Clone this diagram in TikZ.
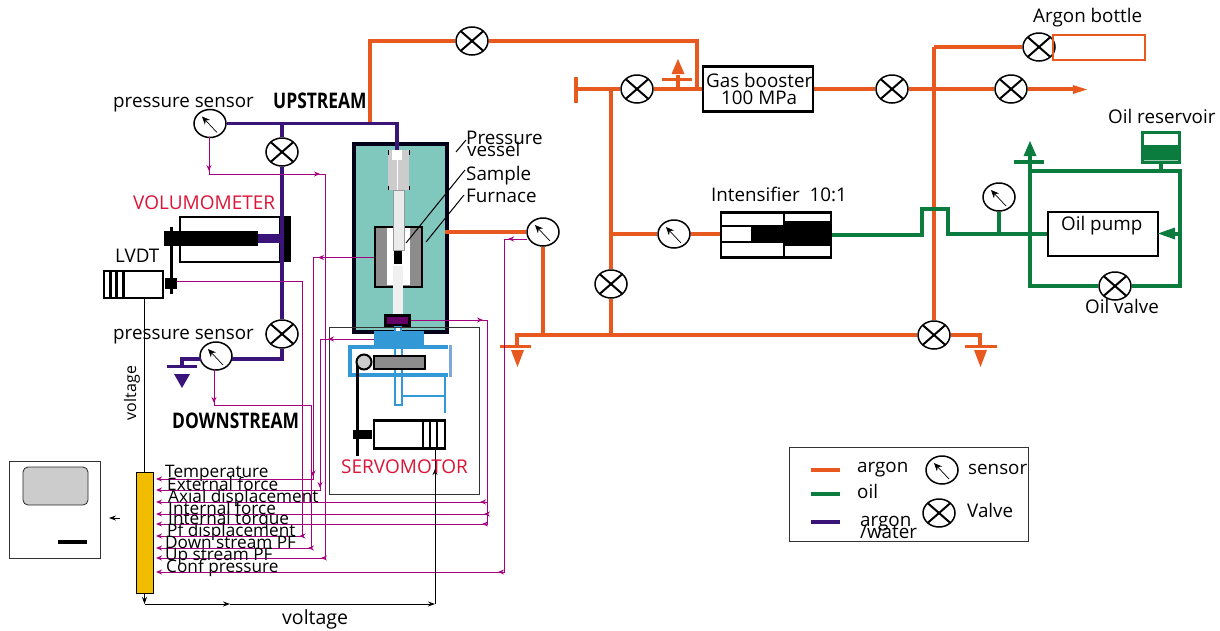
\documentclass[tikz,border=0pt]{standalone}
\usepackage{fontspec}
\setmainfont{Open Sans}
\usetikzlibrary{arrows.meta,shapes.geometric,decorations.markings}
\definecolor{argonc}{HTML}{E8591F}
\definecolor{oilc}{HTML}{0B7B3E}
\definecolor{waterc}{HTML}{3A1478}
\definecolor{sigc}{HTML}{A5007E}
\definecolor{redc}{HTML}{DC1437}
\definecolor{tealc}{HTML}{80C7BE}
\definecolor{bluec}{HTML}{3399D6}
\definecolor{lbluec}{HTML}{7FA8DA}
\definecolor{goldc}{HTML}{F2BD00}
\tikzset{
 valve/.style={ellipse,draw=black,fill=white,line width=1.5pt,minimum width=32pt,minimum height=28pt,inner sep=0pt,
   path picture={\draw[line width=2pt] (path picture bounding box.north west) -- (path picture bounding box.south east)
      (path picture bounding box.north east) -- (path picture bounding box.south west);}},
 gauge/.style={ellipse,draw=black,fill=white,line width=1.5pt,minimum width=32pt,minimum height=28pt,inner sep=0pt,
   path picture={\draw[line width=.7pt,-{Stealth[length=8pt,width=7pt]}] (path picture bounding box.center) ++(7,9) -- ++(-15,-16);}},
 argon/.style={draw=argonc,line width=4pt},
 oil/.style={draw=oilc,line width=3.4pt},
 water/.style={draw=waterc,line width=3.6pt},
 sig/.style={draw=sigc,line width=1pt,-{Stealth[length=6pt,width=5pt]}},
 tipat/.style={postaction={decorate,decoration={markings,mark=at position #1pt with {\arrow{Stealth[length=6pt,width=5pt]}}}}},
 blk/.style={draw=black,line width=1pt,-{Stealth[length=7pt,width=5pt]}},
 boxed/.style={draw=black,fill=white,line width=2.5pt,inner sep=0pt},
 lbl/.style={inner sep=0pt,anchor=base west,font=\fontsize{18.8}{18.8}\selectfont},
 lbs/.style={inner sep=0pt,font=\fontsize{16}{16}\selectfont},
 small/.style={inner sep=0pt,anchor=base west,font=\fontsize{17.2}{17.2}\selectfont},
 redl/.style={inner sep=0pt,anchor=base west,text=redc,font=\fontsize{19}{19}\selectfont},
 flow/.style={inner sep=0pt,anchor=base west,font=\fontsize{21.5}{21.5}\bfseries},
 pipeb/.style={draw=bluec,line width=3.4pt},
 leader/.style={draw=black,line width=1pt},
}
\begin{document}
\begin{tikzpicture}[x=1pt,y=-1pt]
\path[use as bounding box] (0,0) rectangle (1220,630);

% ---- vessel
\node[draw=black!90!blue,fill=tealc,line width=4pt,minimum width=93pt,minimum height=188pt,inner sep=0pt] (vessel) at (400,238) {};
\fill[black!20] (388,150) rectangle (409,190);
\fill[black!15] (393,190) rectangle (404,250);
\draw[white,line width=.7pt] (397,155) -- (397,250) (400,190) -- (400,250);
\fill[white] (392,150) rectangle (402,160);
\draw[black,line width=1pt] (388,150) -- (388,155) (409,150) -- (409,155) (388,186) -- (388,190) (409,186) -- (409,190);
\node[draw=black,fill=black!45,line width=2pt,minimum width=47pt,minimum height=60pt,inner sep=0pt] (furnace) at (398,257) {};
\fill[white] (387,228) rectangle (410,285);
\fill[black!8] (393,190) rectangle (404,250);
\draw[black!40,line width=.5pt] (393,190) rectangle (404,250);
\fill[black] (394,251) rectangle (402,264);
\fill[black!6] (393,266) rectangle (403,314);
\node[draw=black,fill=black!20!violet,line width=2.2pt,minimum width=24pt,minimum height=10pt,inner sep=0pt] (cell) at (397.5,320.5) {};
\fill[bluec] (394,326) rectangle (402,332);
\fill[white] (396,327) rectangle (400,331);
% ---- servo frame
\node[draw=black!80,line width=.8pt,minimum width=150pt,minimum height=167pt,inner sep=0pt] (frame) at (404.5,410.5) {};
\fill[bluec] (374,331) rectangle (424,345);
\draw[pipeb] (448,347) -- (350,347) -- (350,375) -- (448,375);
\draw[draw=lbluec,line width=3pt] (450,345) -- (450,377);
\draw[pipeb,line width=2pt] (394.5,345) -- (394.5,405) -- (401.5,405) -- (401.5,345);
\draw[pipeb,line width=2.4pt] (445,375) -- (445,413) (402,396) -- (445,396);
\draw[black,line width=3pt] (357,362) -- (357,456);
\node[draw=black,fill=black!20,line width=2pt,circle,minimum size=15pt,inner sep=0pt] (pulley) at (364,362) {};
\node[draw=black,fill=black!45,line width=2pt,minimum width=51pt,minimum height=13pt,inner sep=0pt] (lever) at (399.5,362) {};
\node[boxed,minimum width=71pt,minimum height=28pt] (servo) at (409.5,434.5) {};
\fill[black] (353,430) rectangle (372,439);
\draw[black,line width=2.5pt] (423,421) -- (423,448) (430,421) -- (430,448) (437,421) -- (437,448);

% ---- volumometer
\node[boxed,minimum width=100pt,minimum height=45pt] (volu) at (230,239.5) {};
\fill[black] (279,216) rectangle (291,262);
\fill[black] (164,231) rectangle (258,245.5);
\fill[waterc] (258,234) rectangle (281,243);
\draw[black,line width=3pt] (171.5,227) -- (171.5,294);
% ---- LVDT
\node[boxed,minimum width=59pt,minimum height=27pt] (lvdt) at (133.5,284.5) {};
\draw[black,line width=2.5pt] (110.5,272) -- (110.5,297) (116.5,272) -- (116.5,297) (123.5,272) -- (123.5,298);
\node[fill=black,inner sep=0pt,minimum width=12pt,minimum height=11pt] (lvdtb) at (171,283.5) {};

% ---- valves and gauges
\node[valve] (v1) at (472,41) {};
\node[valve] (v2) at (637,89) {};
\node[valve] (v3) at (892,89) {};
\node[valve] (v4) at (1011,89) {};
\node[valve] (v5) at (1039,47) {};
\node[valve] (v6) at (611,284) {};
\node[valve] (v7) at (934,335) {};
\node[valve] (voil) at (1115,286) {};
\node[valve] (vp1) at (282,152) {};
\node[valve] (vp2) at (282,334) {};
\node[gauge] (s1) at (210,123.5) {};
\node[gauge] (s2) at (216,356) {};
\node[gauge] (s3) at (543,232) {};
\node[gauge] (s4) at (674,234) {};
\node[gauge] (s5) at (999,197) {};

% ---- boxes
\node[boxed,minimum width=110pt,minimum height=45pt] (booster) at (758,89) {};
\node[boxed,minimum width=110pt,minimum height=45pt] (intens) at (776,235) {};
\fill[black] (751,225) rectangle (784,243);
\fill[black] (784,221) rectangle (830,246);
\draw[black,line width=2pt] (722,226) -- (751,226) (722,242) -- (751,242);
\draw[black,line width=2pt] (784,212) -- (784,258);
\node[boxed,minimum width=110pt,minimum height=44pt] (pump) at (1103,234) {};
\node[draw=argonc,line width=1.6pt,minimum width=92pt,minimum height=25pt,inner sep=0pt] (bottle) at (1099,47.5) {};
\node[draw=oilc,fill=oilc,line width=1pt,minimum width=39pt,minimum height=32pt,inner sep=0pt] (res) at (1161,147) {};
\fill[white] (1144,133.5) rectangle (1178,145);
\draw[white!60!oilc,line width=.5pt] (1144,160) -- (1178,160);

% ---- orange coordinates
\coordinate (a1) at (370,123.5);
\coordinate (a2) at (370,41);
\coordinate (a3) at (697,41);
\coordinate (a4) at (697,89);
\coordinate (a5) at (576,89);
\coordinate (a6) at (611,89);
\coordinate (a7) at (611,334);
\coordinate (a8) at (611,234);
\coordinate (a9) at (934,47);
\coordinate (a11) at (517,335);
\coordinate (a12) at (517,347);
\coordinate (a13) at (980,335);
\coordinate (a14) at (980,347);
\coordinate (a15) at (543,335);
\coordinate (a16) at (678,89);
\coordinate (a17) at (678,75);
\coordinate (a18) at (1075,89);
\coordinate (a19) at (445,232);
\draw[argon] (a1) -- (a2) -- (v1);
\draw[argon] (v1) -- (a3) -- (a4);
\draw[argon] (a5) -- (v2);
\draw[argon] (v2) -- (booster);
\draw[argon] (booster) -- (v3);
\draw[argon] (v3) -- (v4);
\draw[argon] (v4) -- (a18);
\fill[argonc] (1073,85) -- (1087,89.5) -- (1073,94) -- cycle;
\draw[argon] (576,76.5) -- (a5) -- (576,103);
\draw[argon] (a6) -- (a8) -- (v6);
\draw[argon] (v6) -- (a7);
\draw[argon] (a8) -- (s4);
\draw[argon] (s4) -- (s4 -| intens.west);
\draw[argon] (a16) -- (a17);
\draw[argon,line width=3.6pt] (662,79.5) -- (692,79.5);
\fill[argonc] (671.5,74) -- (678,59) -- (684.5,74) -- cycle;
\draw[argon] (a9) -- (v5);
\draw[argon] (a9) -- (v7);
\draw[argon] (a12) -- (a11) -- (v7);
\draw[argon] (v7) -- (a13) -- (a14);
\draw[argon,line width=3.6pt] (500,346.5) -- (531,346.5) (965,346.5) -- (997,346.5);
\fill[argonc] (511,350) -- (517.5,367) -- (524,350) -- cycle;
\fill[argonc] (974,350) -- (980.5,367) -- (987,350) -- cycle;
\draw[argon] (s3) -- (a19);
\draw[argon] (s3) -- (a15);

% ---- green
\coordinate (g1) at (922,235);
\coordinate (g2) at (922,209);
\coordinate (g3) at (948,209);
\coordinate (g4) at (948,234);
\coordinate (g5) at (999,234);
\coordinate (g6) at (1030,286);
\coordinate (g7) at (1030,156);
\coordinate (g8) at (1030,171);
\coordinate (g9) at (1180,171);
\coordinate (g10) at (1180,286);
\coordinate (g11) at (1161,171);
\coordinate (g12) at (1180,234);
\draw[oil] (intens.east) -- (g1) -- (g2) -- (g3) -- (g4) -- (pump);
\draw[oil] (s5) -- (g5);
\draw[oil] (voil) -- (g6) -- (g7);
\draw[oil] (g8) -- (g9) -- (g10) -- (voil);
\draw[oil] (res) -- (g11);
\draw[oil] (g12) -- (1172,234);
\fill[oilc] (1158,233.5) -- (1175,227.5) -- (1175,239.5) -- cycle;
\draw[oil] (1014,162) -- (1044,162);
\fill[oilc] (1023.5,156) -- (1030,141) -- (1036.5,156) -- cycle;

% ---- purple
\coordinate (p1) at (282,123.5);
\coordinate (p2) at (397,123.5);
\coordinate (p3) at (397,150);
\coordinate (p4) at (282,359);
\coordinate (p4b) at (231.5,359);
\coordinate (p5b) at (200.5,359);
\coordinate (p5) at (182,359);
\coordinate (p6) at (182,366);
\draw[water] (s1) -- (p1) -- (p2) -- (p3);
\draw[water] (p1) -- (vp1);
\draw[water] (vp1) -- (vp2);
\draw[water] (vp2) -- (p4) -- (p4b);
\draw[water] (p5b) -- (p5) -- (p6);
\draw[water,line width=3.4pt] (167,366.5) -- (197,366.5);
\fill[waterc] (174,374) -- (182,388) -- (190,374) -- cycle;

% ---- amplifier and computer
\node[draw=black,fill=goldc,line width=1pt,minimum width=17pt,minimum height=121pt,inner sep=0pt] (amp) at (144.5,532.5) {};
\node[draw=black!80,line width=.8pt,minimum width=91pt,minimum height=97pt,inner sep=0pt] (pc) at (54.5,509.5) {};
\node[draw=black!85,fill=black!20,rounded corners=5pt,line width=.8pt,minimum width=65pt,minimum height=38pt,inner sep=0pt] (screen) at (55.5,486) {};
\fill[black] (58,540) rectangle (87,544);

% ---- signal lines
\coordinate (q1) at (209,174);
\coordinate (q2) at (325,174);
\coordinate (q3) at (325,558);
\coordinate (e1) at (156,558);
\coordinate (q0) at (209,137);
\draw[sig,tipat=34,tipat=148,tipat=541] (q0) -- (q1) -- (q2) -- (q3) -- (e1);
\coordinate (q4a) at (177,281.5);
\coordinate (q4) at (302,281.5);
\coordinate (q5) at (302,536);
\coordinate (e2) at (156,536);
\draw[sig,tipat=382] (q4a) -- (q4) -- (q5) -- (e2);
\coordinate (q6a) at (374,257.5);
\coordinate (q6) at (313,257.5);
\coordinate (q7) at (313,479);
\coordinate (e3) at (156,479);
\draw[sig,tipat=56,tipat=280] (q6a) -- (q6) -- (q7) -- (e3);
\coordinate (q8a) at (214,369);
\coordinate (q8) at (214,405);
\coordinate (q9) at (311,405);
\coordinate (q10) at (311,548);
\coordinate (e4) at (156,548);
\draw[sig,tipat=34,tipat=279] (q8a) -- (q8) -- (q9) -- (q10) -- (e4);
\coordinate (q11a) at (374,339);
\coordinate (q11) at (320,339);
\coordinate (q12) at (320,490);
\coordinate (e5) at (156,490);
\draw[sig,tipat=46,tipat=203] (q11a) -- (q11) -- (q12) -- (e5);
\coordinate (q13a) at (411,320);
\coordinate (q13) at (487,320);
\coordinate (q14) at (487,524);
\coordinate (q15) at (487,502);
\coordinate (q16) at (487,514);
\coordinate (e6) at (156,524);
\coordinate (e7) at (156,502);
\coordinate (e8) at (156,514);
\draw[sig,tipat=72,tipat=285] (q13a) -- (q13) -- (q14) -- (e6);
\draw[sig,tipat=7] (q15) -- (e7);
\draw[sig,tipat=3] (q16) -- (e8);
\coordinate (q17) at (527,239);
\coordinate (q18) at (504,239);
\coordinate (q19) at (504,572);
\coordinate (e9) at (156,572);
\draw[sig,tipat=19,tipat=362] (q17) -- (q18) -- (q19) -- (e9);

% ---- black signal lines
\coordinate (b1) at (144.5,604);
\coordinate (b2) at (435,604);
\coordinate (b3) at (230,604);
\coordinate (b4) at (435,449);
\coordinate (b5) at (144.5,298);
\coordinate (b6) at (144.5,472);
\draw[blk] (amp.south) -- (b1);
\draw[blk] (b1) -- (b3);
\draw[blk] (b3) -- (b2);
\draw[draw=black,line width=1pt,tipat=135] (b2) -- (b4);
\draw[draw=black,line width=1pt] (b5) -- (b6);
\coordinate (c1) at (120,518);
\coordinate (c2) at (109,518);
\draw[blk] (c1) -- (c2);

% ---- leaders
\coordinate (l1) at (466,140); \coordinate (l2) at (456,152);
\coordinate (l3) at (465,170); \coordinate (l4) at (406,243);
\coordinate (l5) at (464,195); \coordinate (l6) at (426,242);
\draw[leader] (l1) -- (l2);
\draw[leader] (l3) -- (l4);
\draw[leader] (l5) -- (l6);

% ---- labels
\node[lbl] (t1) at (113,107) {pressure sensor};
\node[lbl] (t2) at (113,339) {pressure sensor};
\node[flow] (t3) at (273,108) {\scalebox{.81}[1]{UPSTREAM}};
\node[flow] (t4) at (172,428) {\scalebox{.81}[1]{DOWNSTREAM}};
\node[redl] (t5) at (133,209) {VOLUMOMETER};
\node[lbl] (t6) at (115,262) {LVDT};
\node[lbs,rotate=90] (t7) at (132,393) {voltage};
\node[lbl,font=\fontsize{19.5}{19.5}\selectfont] (t8) at (282,624) {voltage};
\node[redl] (t9) at (341,473) {SERVOMOTOR};
\node[lbl] (t10) at (466,144) {Pressure};
\node[lbl] (t11) at (467,156) {vessel};
\node[lbl] (t12) at (466,180) {Sample};
\node[lbl] (t13) at (466,202) {Furnace};
\node[lbl] (t14) at (1033,22) {Argon bottle};
\node[lbl] (t15) at (706,87) {Gas booster};
\node[lbl] (t16) at (721,104) {100 MPa};
\node[lbl] (t17) at (711,201) {Intensifier\ \ 10:1};
\node[lbl] (t18) at (1108,123) {Oil reservoir};
\node[lbl] (t19) at (1061,230) {Oil pump};
\node[lbl] (t20) at (1085,313) {Oil valve};
\node[small] (m1) at (165,477) {Temperature};
\node[small] (m2) at (167,490) {External force};
\node[small] (m3) at (168,502) {Axial displacement};
\node[small] (m4) at (168,514) {Internal force};
\node[small] (m5) at (168,524) {Internal torque};
\node[small] (m6) at (167,536) {Pf displacement};
\node[small] (m7) at (165,548) {Down stream PF};
\node[small] (m8) at (165,560) {Up stream PF};
\node[small] (m9) at (166,572) {Conf pressure};

% ---- legend
\node[draw=black!80,line width=.8pt,minimum width=239pt,minimum height=94pt,inner sep=0pt] (legend) at (908.5,494) {};
\coordinate (k1) at (811,470); \coordinate (k2) at (840,470);
\coordinate (k3) at (811,494); \coordinate (k4) at (840,494);
\coordinate (k5) at (811,522); \coordinate (k6) at (840,522);
\draw[argon] (k1) -- (k2);
\draw[oil] (k3) -- (k4);
\draw[water] (k5) -- (k6);
\node[lbl] (k7) at (857,472) {argon};
\node[lbl] (k8) at (857,498) {oil};
\node[lbl] (k9) at (860,526) {argon};
\node[lbl] (k10) at (860,538) {/water};
\node[gauge] (k11) at (942,470) {};
\node[valve] (k12) at (939,513) {};
\node[lbl] (k13) at (968,474) {sensor};
\node[lbl] (k14) at (967,517) {Valve};
\end{tikzpicture}
\end{document}
